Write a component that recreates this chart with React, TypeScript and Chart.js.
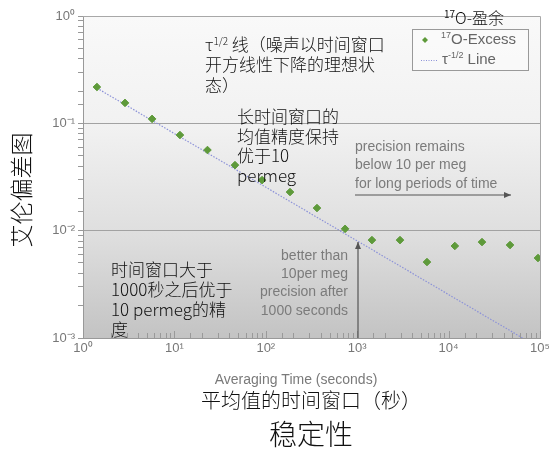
import React, { useEffect, useRef } from 'react';
import { Chart, registerables } from 'chart.js';

Chart.register(...registerables);

// Averaging times (s) and Allan deviation of 17O-excess
const tauValues = [1.42, 2.88, 5.7, 11.5, 23, 46, 91, 184, 363, 737, 1450, 2940, 5800, 11700, 23200, 47000, 95000];
const excessValues = [0.218, 0.155, 0.11, 0.0778, 0.0564, 0.0408, 0.0296, 0.0229, 0.01625, 0.0104, 0.00817, 0.00817, 0.0051, 0.0072, 0.00783, 0.00735, 0.00556];
// tau^-1/2 reference line end points
const lineTau = [1.42, 64500];
const lineValues = [0.213, 0.001];
const xRange = [1, 100000];
const yRange = [0.001, 1];

const SUP: Record<string, string> = { '0': '⁰', '1': '¹', '2': '²', '3': '³', '4': '⁴', '5': '⁵', '6': '⁶', '7': '⁷', '8': '⁸', '9': '⁹', '-': '⁻' };

const isDecade = (v: number) => Math.abs(Math.log10(v) - Math.round(Math.log10(v))) < 1e-6;
const powLabel = (v: number) => {
  if (!isDecade(v)) return '';
  const e = String(Math.round(Math.log10(v)));
  return '10' + e.split('').map((c) => SUP[c]).join('');
};

const CJK = '"Noto Sans CJK SC"';
const SANS = '"Liberation Sans", Arial, sans-serif';

type Seg = [string, string, number];
function drawSegs(ctx: CanvasRenderingContext2D, x: number, y: number, segs: Seg[], color: string) {
  ctx.fillStyle = color;
  ctx.textAlign = 'left';
  ctx.textBaseline = 'middle';
  let cx = x;
  for (const [t, f, dy] of segs) {
    ctx.font = f;
    ctx.fillText(t, cx, y + dy);
    cx += ctx.measureText(t).width;
  }
}

function arrow(ctx: CanvasRenderingContext2D, x1: number, y1: number, x2: number, y2: number, color: string) {
  ctx.save();
  ctx.strokeStyle = color;
  ctx.fillStyle = color;
  ctx.lineWidth = 1.2;
  ctx.beginPath();
  ctx.moveTo(x1, y1);
  ctx.lineTo(x2, y2);
  ctx.stroke();
  const ang = Math.atan2(y2 - y1, x2 - x1);
  const L = 7, W = 3;
  ctx.beginPath();
  ctx.moveTo(x2, y2);
  ctx.lineTo(x2 - L * Math.cos(ang) + W * Math.sin(ang), y2 - L * Math.sin(ang) - W * Math.cos(ang));
  ctx.lineTo(x2 - L * Math.cos(ang) - W * Math.sin(ang), y2 - L * Math.sin(ang) + W * Math.cos(ang));
  ctx.closePath();
  ctx.fill();
  ctx.restore();
}

const overlay = {
  id: 'overlay',
  beforeDraw(chart: any) {
    const { ctx, chartArea: a } = chart;
    const g = ctx.createLinearGradient(0, a.top, 0, a.bottom);
    g.addColorStop(0, '#f9f9f9');
    g.addColorStop(0.35, '#f1f1f1');
    g.addColorStop(0.7, '#dddddd');
    g.addColorStop(1, '#c3c3c3');
    ctx.save();
    ctx.fillStyle = g;
    ctx.fillRect(a.left, a.top, a.right - a.left, a.bottom - a.top);
    ctx.restore();
  },
  afterDraw(chart: any) {
    const { ctx, chartArea: a } = chart;
    const xs = chart.scales.x;
    ctx.save();
    // frame
    ctx.strokeStyle = '#a8a8a8';
    ctx.lineWidth = 1;
    ctx.beginPath();
    ctx.moveTo(a.left, a.top + 0.5);
    ctx.lineTo(a.right + 0.5, a.top + 0.5);
    ctx.lineTo(a.right + 0.5, a.bottom);
    ctx.stroke();
    // inside x ticks
    ctx.strokeStyle = '#999';
    for (const t of xs.ticks) {
      const px = Math.round(xs.getPixelForValue(t.value)) + 0.5;
      ctx.beginPath();
      ctx.moveTo(px, a.bottom);
      ctx.lineTo(px, a.bottom - (isDecade(t.value) ? 7 : 5));
      ctx.stroke();
    }

    // Chinese annotations
    const f17 = `300 17px ${CJK}`;
    const f10 = `300 10px ${CJK}`;
    drawSegs(ctx, 205, 45, [['τ', f17, 0], ['1/2', f10, -4], [' 线（噪声以时间窗口', f17, 0]], '#111');
    drawSegs(ctx, 205, 65, [['开方线性下降的理想状', f17, 0]], '#111');
    drawSegs(ctx, 205, 86, [['态）', f17, 0]], '#111');

    ['长时间窗口的', '均值精度保持', '优于10', 'permeg'].forEach((s, i) =>
      drawSegs(ctx, 237, 117 + i * 19.5, [[s, f17, 0]], '#111'));
    ['时间窗口大于', '1000秒之后优于', '10 permeg的精', '度'].forEach((s, i) =>
      drawSegs(ctx, 111, 270 + i * 20, [[s, f17, 0]], '#111'));

    // gray annotations
    const g14 = `14px ${SANS}`;
    ['precision remains', 'below 10 per meg', 'for long periods of time'].forEach((s, i) =>
      drawSegs(ctx, 355, 147 + i * 18.5, [[s, g14, 0]], '#7b7b7b'));
    arrow(ctx, 355, 195, 511, 195, '#555');
    ctx.font = g14;
    ctx.fillStyle = '#7b7b7b';
    ctx.textAlign = 'right';
    ctx.textBaseline = 'middle';
    ['better than', '10per meg', 'precision after', '1000 seconds'].forEach((s, i) =>
      ctx.fillText(s, 348, 256 + i * 18.3));
    arrow(ctx, 358, a.bottom, 358, 242, '#555');

    // legend
    ctx.fillStyle = 'rgba(250,250,250,0.9)';
    ctx.fillRect(412.5, 29.5, 116, 41);
    ctx.strokeStyle = '#999';
    ctx.lineWidth = 1;
    ctx.strokeRect(412.5, 29.5, 116, 41);
    ctx.fillStyle = '#5e9a3a';
    ctx.beginPath();
    ctx.moveTo(425, 37); ctx.lineTo(428, 40); ctx.lineTo(425, 43); ctx.lineTo(422, 40);
    ctx.closePath();
    ctx.fill();
    drawSegs(ctx, 441, 40, [['17', `9px ${SANS}`, -4], ['O-Excess', `15px ${SANS}`, 0]], '#666');
    ctx.strokeStyle = '#8c92d8';
    ctx.setLineDash([1, 1.5]);
    ctx.beginPath();
    ctx.moveTo(421, 60.5); ctx.lineTo(438, 60.5);
    ctx.stroke();
    ctx.setLineDash([]);
    drawSegs(ctx, 442, 60, [['τ', `15px ${SANS}`, 0], ['-1/2', `9px ${SANS}`, -4], [' Line', `15px ${SANS}`, 0]], '#666');

    // legend title
    drawSegs(ctx, 444, 18, [['17', `10px ${CJK}`, -4], ['O-盈余', `300 16px ${CJK}`, 0]], '#111');

    // axis titles
    ctx.textAlign = 'center';
    ctx.textBaseline = 'middle';
    ctx.fillStyle = '#7a7a7a';
    ctx.font = `14px ${SANS}`;
    ctx.fillText('Averaging Time (seconds)', 296, 380);
    ctx.fillStyle = '#111';
    ctx.font = `300 20px ${CJK}`;
    ctx.fillText('平均值的时间窗口（秒）', 311, 400);
    ctx.font = `300 28px ${CJK}`;
    ctx.fillText('稳定性', 311, 434);

    ctx.translate(21, 190);
    ctx.rotate(-Math.PI / 2);
    ctx.font = `300 23px ${CJK}`;
    ctx.fillText('艾伦偏差图', 0, 0);
    ctx.restore();
  },
};

export default function App() {
  const ref = useRef<HTMLCanvasElement | null>(null);
  useEffect(() => {
    if (!ref.current) return;
    const chart = new Chart(ref.current, {
      type: 'scatter',
      data: {
        datasets: [
          {
            label: '17O-Excess',
            data: tauValues.map((t, i) => ({ x: t, y: excessValues[i] })),
            pointStyle: 'rectRot',
            pointRadius: 3.8,
            backgroundColor: '#5e9a3a',
            borderColor: '#5e9a3a',
            borderWidth: 1,
            showLine: false,
          },
          {
            label: 'τ-1/2 Line',
            data: lineTau.map((t, i) => ({ x: t, y: lineValues[i] })),
            showLine: true,
            pointRadius: 0,
            borderColor: '#8c92d8',
            borderWidth: 1.2,
            borderDash: [1.5, 1.5],
          },
        ],
      },
      options: {
        animation: false,
        responsive: false,
        layout: { padding: { left: 0, right: 15, top: 16, bottom: 94 } },
        plugins: { legend: { display: false }, tooltip: { enabled: false } },
        scales: {
          x: {
            type: 'logarithmic',
            min: xRange[0],
            max: xRange[1],
            afterFit: (s: any) => { s.height = 22; },
            grid: { display: false, drawTicks: false },
            border: { display: true, color: '#999' },
            ticks: {
              autoSkip: false,
              maxRotation: 0,
              padding: 3,
              color: '#777',
              font: { family: SANS, size: 13 },
              callback: (v: any) => powLabel(Number(v)),
            },
          },
          y: {
            type: 'logarithmic',
            min: yRange[0],
            max: yRange[1],
            afterFit: (s: any) => { s.width = 83; },
            grid: {
              color: (c: any) => (c.tick && isDecade(c.tick.value) ? '#a2a2a2' : 'rgba(0,0,0,0)'),
              tickColor: '#999',
              tickLength: 5,
            },
            border: { display: true, color: '#999' },
            ticks: {
              autoSkip: false,
              padding: 3,
              color: '#777',
              font: { family: SANS, size: 13 },
              callback: (v: any) => powLabel(Number(v)),
            },
          },
        },
      },
      plugins: [overlay],
    });
    return () => chart.destroy();
  }, []);
  return (
    <div style={{ position: 'fixed', left: 0, top: 0, width: 555, height: 454, background: '#fff' }}>
      <canvas ref={ref} width={555} height={454} />
    </div>
  );
}
